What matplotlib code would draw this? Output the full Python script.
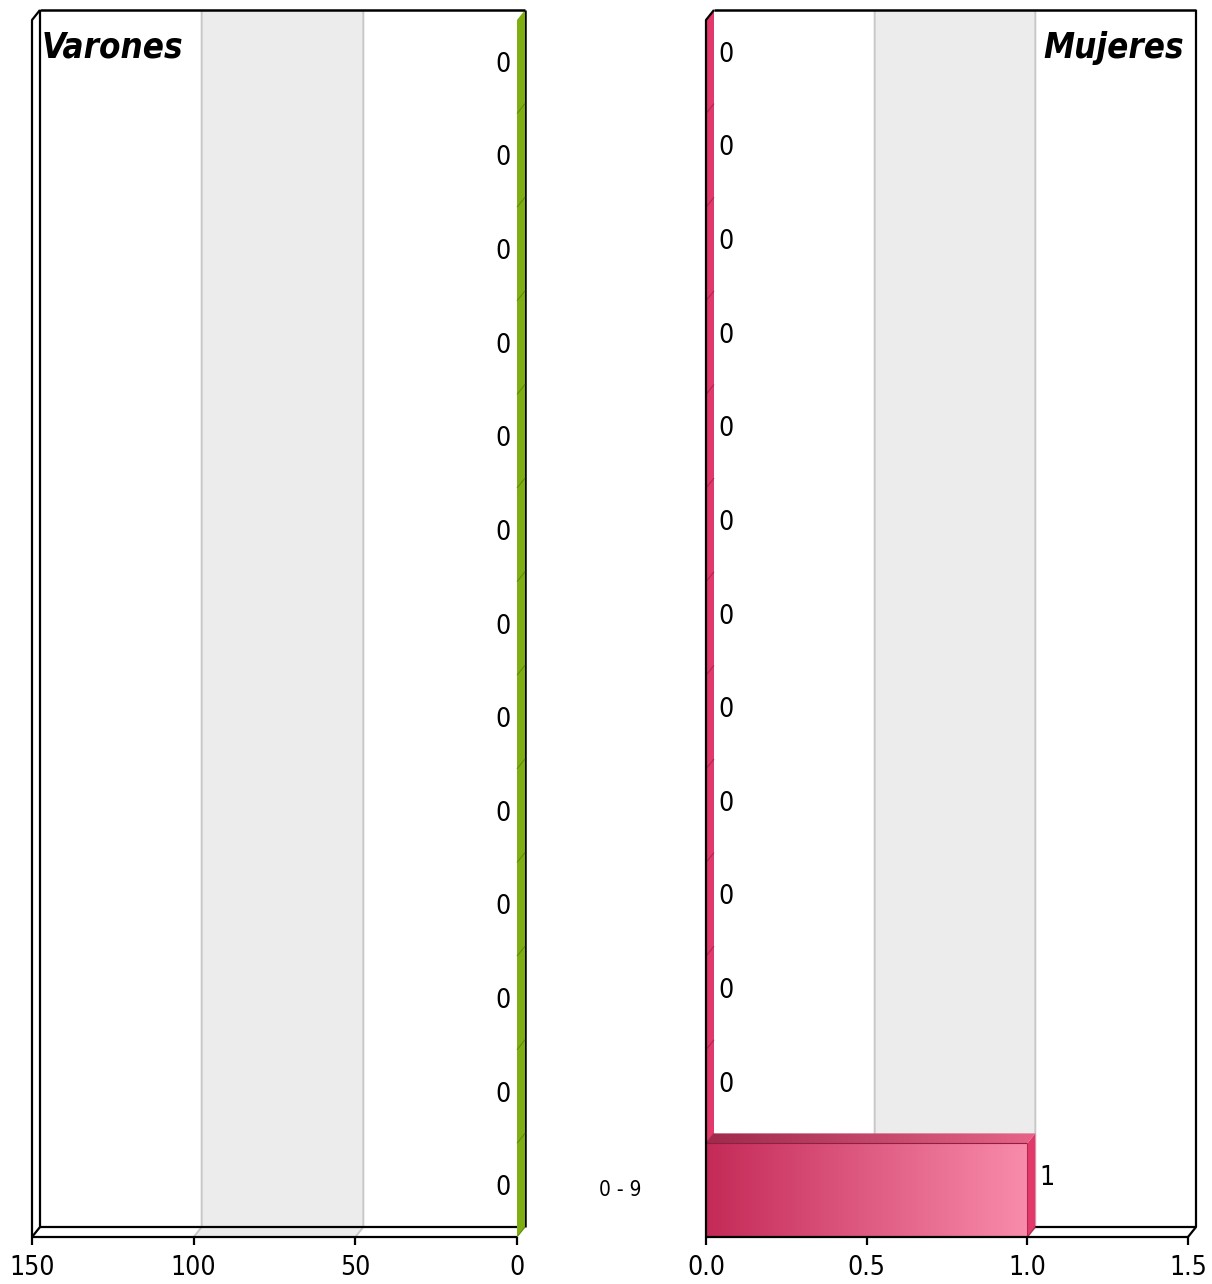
import numpy as np
import matplotlib.pyplot as plt
from matplotlib import font_manager
from matplotlib.patches import Polygon
from matplotlib.colors import LinearSegmentedColormap

# pick a narrow face if one is installed
_fonts = font_manager.fontManager.ttflist
_names = {f.name for f in _fonts}
if 'Liberation Sans Narrow' in _names:
    FAM, STRETCH, NARROW = ['Liberation Sans Narrow', 'DejaVu Sans'], 'normal', True
elif any(f.name == 'DejaVu Sans' and f.stretch == 'condensed' for f in _fonts):
    FAM, STRETCH, NARROW = ['DejaVu Sans', 'Liberation Sans'], 'condensed', True
else:
    FAM, STRETCH, NARROW = ['Liberation Sans', 'DejaVu Sans'], 'normal', False
plt.rcParams['font.family'] = FAM
plt.rcParams['font.stretch'] = STRETCH
FS = 19
TFS = 25

# Data (bottom group first)
age_groups = ["0 - 9", "", "", "", "", "", "", "", "", "", "", "", ""]
varones = [0, 0, 0, 0, 0, 0, 0, 0, 0, 0, 0, 0, 0]
mujeres = [1, 0, 0, 0, 0, 0, 0, 0, 0, 0, 0, 0, 0]
left_ticks = [150, 100, 50, 0]
left_ticklabels = ["150", "100", "50", "0"]
right_ticks = [0.0, 0.5, 1.0, 1.5]
right_ticklabels = ["0.0", "0.5", "1.0", "1.5"]

W, H = 1212, 1284
DX, DY = 8, 10  # depth of the fake 3D, pixels
n = len(age_groups)
y0, y1 = -0.5, n - 0.5

fig = plt.figure(figsize=(W / 100, H / 100), dpi=100)
axL = fig.add_axes([32 / W, 47 / H, 485 / W, 1217 / H])
axR = fig.add_axes([706 / W, 47 / H, 482 / W, 1217 / H])
axL.set_xlim(150, 0)
axR.set_xlim(0, 1.5)
for ax in (axL, axR):
    ax.set_ylim(y0, y1)
    ax.axis('off')


def shift(ax, x, y, dx=DX, dy=DY):
    pts = ax.transData.transform(np.column_stack([np.atleast_1d(x), np.atleast_1d(y)]).astype(float))
    pts = pts + [dx, dy]
    return ax.transData.inverted().transform(pts)


def line(ax, pts, color='black', lw=1.6, z=5):
    pts = np.asarray(pts)
    ax.plot(pts[:, 0], pts[:, 1], color=color, lw=lw, zorder=z, clip_on=False,
            solid_capstyle='butt')


def poly(ax, pts, fc, ec='none', lw=0, z=3):
    p = Polygon(pts, closed=True, fc=fc, ec=ec, lw=lw, zorder=z, clip_on=False)
    ax.add_patch(p)
    return p


def frame(ax, xmin, xmax, band, grids, outer, ticks, labels):
    # back wall
    bl = shift(ax, xmin, y0)[0]
    tr = shift(ax, xmax, y1)[0]
    poly(ax, [(bl[0], bl[1]), (tr[0], bl[1]), (tr[0], tr[1]), (bl[0], tr[1])], 'white', z=0)
    b0 = shift(ax, band[0], y0)[0]
    b1 = shift(ax, band[1], y1)[0]
    poly(ax, [(b0[0], b0[1]), (b1[0], b0[1]), (b1[0], b1[1]), (b0[0], b1[1])], '#ececec', z=0.5)
    # floor band
    poly(ax, [(band[0], y0), (band[1], y0), tuple(shift(ax, band[1], y0)[0]),
              tuple(shift(ax, band[0], y0)[0])], '#ececec', z=0.5)
    for g in grids:
        top = shift(ax, g, y1)[0]
        bot = shift(ax, g, y0)[0]
        line(ax, [top, bot, (g, y0)], color='#c8c8c8', lw=1.4, z=1)
    # back outline
    line(ax, [shift(ax, xmin, y1)[0], shift(ax, xmax, y1)[0]], lw=1.8, z=6)
    line(ax, [shift(ax, xmin, y0)[0], shift(ax, xmax, y0)[0]], lw=1.6, z=2)
    line(ax, [shift(ax, outer, y1)[0], shift(ax, outer, y0)[0], (outer, y0)], lw=1.6, z=6)
    line(ax, [(xmin, y0), (xmax, y0)], lw=1.6, z=6)
    for t, lab in zip(ticks, labels):
        line(ax, [(t, y0), shift(ax, t, y0, 0, -8)[0]], lw=1.6, z=6)
        ax.annotate(lab, (t, y0), xytext=(0, -18), textcoords='offset pixels',
                    ha='center', va='top', fontsize=FS, annotation_clip=False)


# left panel: Varones
frame(axL, 150, 0, (100, 50), [100, 50], 150, left_ticks, left_ticklabels)
line(axL, [(150, y0), (150, y1), shift(axL, 150, y1)[0]], lw=1.6, z=6)
line(axL, [shift(axL, 0, y1)[0], shift(axL, 0, y0)[0]], lw=1.8, z=2)

green = '#7fae12'
for i, v in enumerate(varones):
    a, b = i - 0.5, i + 0.5
    pts = [(v, a), (v, b), tuple(shift(axL, v, b)[0]), tuple(shift(axL, v, a)[0])]
    poly(axL, pts, green, z=4)
    line(axL, [(v, a), shift(axL, v, a)[0]], color='#5e8a08', lw=0.8, z=4.5)
    axL.annotate(str(v), (v, i), xytext=(-6, 2), textcoords='offset pixels',
                 ha='right', va='center', fontsize=FS, annotation_clip=False)

# right panel: Mujeres
frame(axR, 0, 1.5, (0.5, 1.0), [0.5, 1.0], 1.5, right_ticks, right_ticklabels)
line(axR, [(0, y0), (0, y1), shift(axR, 0, y1)[0]], lw=1.6, z=6)

pink_side = '#e2386a'
front_cmap = LinearSegmentedColormap.from_list('front', ['#c42a57', '#f98cab'])
top_cmap = LinearSegmentedColormap.from_list('top', ['#a02a4c', '#e66488'])
grad = np.linspace(0, 1, 256).reshape(1, -1)
for i, v in enumerate(mujeres):
    a, b = i - 0.5, i + 0.5
    side = [(v, a), (v, b), tuple(shift(axR, v, b)[0]), tuple(shift(axR, v, a)[0])]
    poly(axR, side, pink_side, z=4)
    line(axR, [(v, a), shift(axR, v, a)[0]], color='#a8284c', lw=0.8, z=4.5)
    if v > 0:
        axR.imshow(grad, cmap=front_cmap, extent=[0, v, a, b], aspect='auto',
                   zorder=4.2, interpolation='bilinear')
        top_pts = [(0, b), (v, b), tuple(shift(axR, v, b)[0]), tuple(shift(axR, 0, b)[0])]
        tp = poly(axR, top_pts, 'none', z=4.3)
        xs = [p[0] for p in top_pts]
        ys = [p[1] for p in top_pts]
        im = axR.imshow(grad, cmap=top_cmap, extent=[min(xs), max(xs), min(ys), max(ys)],
                        aspect='auto', zorder=4.3, interpolation='bilinear')
        im.set_clip_path(tp)
        line(axR, [(0, b), (v, b)], color='#8e2042', lw=0.8, z=4.6)
        line(axR, [(v, a), (v, b)], color='#b02a50', lw=0.8, z=4.6)
    axR.annotate(str(v), (v, i), xytext=(12, 12), textcoords='offset pixels',
                 ha='left', va='center', fontsize=FS, annotation_clip=False)

axR.set_xlim(0, 1.5)
axR.set_ylim(y0, y1)

# category labels between the panels
for i, lab in enumerate(age_groups):
    if lab:
        fig.text(620 / W, axL.transData.transform((0, i))[1] / H, lab,
                 ha='center', va='center', fontsize=FS - 4)

fig.text(42 / W, 1 - 48 / H, "Varones", ha='left', va='center', fontsize=TFS,
         fontweight='bold', fontstyle='italic')
fig.text(1184 / W, 1 - 48 / H, "Mujeres", ha='right', va='center', fontsize=TFS,
         fontweight='bold', fontstyle='italic')

fig.savefig('out.png', dpi=100)
